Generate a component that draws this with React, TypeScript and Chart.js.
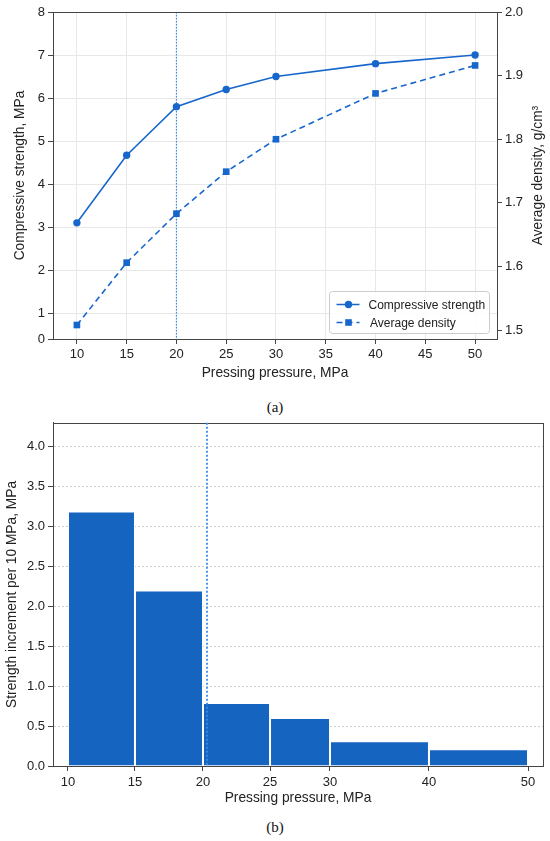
import React, { useEffect, useRef } from "react";
import { Chart, registerables, LinearScale, BarController } from "chart.js";

// (a) strength and density against pressing pressure
const pressure = [10, 15, 20, 25, 30, 40, 50];
const compressiveStrength = [3.1, 4.67, 5.8, 6.2, 6.5, 6.8, 7.0];
const averageDensity = [1.508, 1.606, 1.683, 1.749, 1.8, 1.872, 1.916];
const pressureTicks = [10, 15, 20, 25, 30, 35, 40, 45, 50];
const strengthTicks = [1, 2, 3, 4, 5, 6, 7, 8];
const densityTicks = [1.5, 1.6, 1.7, 1.8, 1.9, 2.0];

// (b) strength increment per 10 MPa, one bin between each pair of edges
const binEdges = [10, 15, 20, 25, 30, 40, 50];
const strengthIncrement = [3.19, 2.2, 0.79, 0.6, 0.31, 0.21];
const incrementTicks = [0, 0.5, 1, 1.5, 2, 2.5, 3, 3.5, 4];

const thresholdA = 20;
const thresholdB = 20.3;

const FONT = '"Liberation Sans", Arial, Helvetica, sans-serif';
const LINE_BLUE = "#1766cc";
const BAR_BLUE = "#1565c0";
const MARK_BLUE = "#3a8ee8";
const AXIS = "#444444";
const TEXT = "#222222";
const TICK_SIZE = 13;
const TITLE_SIZE = 13.75;

// the bottom axis of (b) is not linear: where each value lands, as a fraction of the plot width
const bottomAxisStops = [
  [8.88, 0],
  [10, 0.0306],
  [15, 0.1673],
  [20, 0.3061],
  [25, 0.4429],
  [30, 0.5653],
  [40, 0.7673],
  [50, 0.9694],
  [51.5, 1],
];

class PiecewiseScale extends LinearScale {
  static id = "piecewise";
  static defaults = LinearScale.defaults;

  getPixelForValue(value: number) {
    const s = bottomAxisStops;
    let i = 1;
    while (i < s.length - 1 && value > s[i][0]) i++;
    const [v0, f0] = s[i - 1];
    const [v1, f1] = s[i];
    return this.getPixelForDecimal(f0 + ((value - v0) / (v1 - v0)) * (f1 - f0));
  }

  getValueForPixel(pixel: number) {
    const d = this.getDecimalForPixel(pixel);
    const s = bottomAxisStops;
    let i = 1;
    while (i < s.length - 1 && d > s[i][1]) i++;
    const [v0, f0] = s[i - 1];
    const [v1, f1] = s[i];
    return v0 + ((d - f0) / (f1 - f0)) * (v1 - v0);
  }
}

// bars that span [binEdges[i], binEdges[i+1]] on the index scale
class HistogramController extends BarController {
  static id = "histogram";
  static defaults = { ...BarController.defaults };
  static overrides = {};

  _calculateBarIndexPixels(index: number) {
    const scale = this._cachedMeta.iScale;
    const left = scale.getPixelForValue(binEdges[index]);
    const right = scale.getPixelForValue(binEdges[index + 1]);
    return { base: left, head: right, center: (left + right) / 2, size: right - left, ratio: 1 };
  }
}

Chart.register(...registerables, PiecewiseScale, HistogramController);
Chart.defaults.font.family = FONT;
Chart.defaults.font.size = 12;
Chart.defaults.color = TEXT;

const frame = {
  id: "frame",
  afterDatasetsDraw(chart: any) {
    const { ctx, chartArea: a } = chart;
    ctx.save();
    ctx.strokeStyle = AXIS;
    ctx.lineWidth = 1;
    ctx.strokeRect(Math.round(a.left) + 0.5, Math.round(a.top) + 0.5, Math.round(a.right - a.left), Math.round(a.bottom - a.top));
    ctx.restore();
  },
};

function markerLine(value: number, width: number, dash: number[], onTop: boolean) {
  const draw = (chart: any) => {
    const { ctx, chartArea: a, scales } = chart;
    const x = scales.x.getPixelForValue(value);
    ctx.save();
    ctx.strokeStyle = MARK_BLUE;
    ctx.lineWidth = width;
    ctx.setLineDash(dash);
    ctx.beginPath();
    ctx.moveTo(x, a.top);
    ctx.lineTo(x, a.bottom);
    ctx.stroke();
    ctx.restore();
  };
  return onTop
    ? { id: "markerLine", afterDraw: draw }
    : { id: "markerLine", beforeDatasetsDraw: draw };
}

// right-hand axis title, read bottom to top like the left one
const rightTitle = {
  id: "rightTitle",
  afterDraw(chart: any) {
    const { ctx, chartArea: a, scales } = chart;
    const s = scales.y1;
    ctx.save();
    ctx.translate(s.right - 12, (a.top + a.bottom) / 2);
    ctx.rotate(-Math.PI / 2);
    ctx.fillStyle = TEXT;
    ctx.font = `${TITLE_SIZE}px ${FONT}`;
    ctx.textAlign = "center";
    ctx.textBaseline = "middle";
    ctx.fillText("Average density, g/cm³", 0, 0);
    ctx.restore();
  },
};

const insideLegend = {
  id: "insideLegend",
  afterDraw(chart: any) {
    const { ctx, chartArea: a } = chart;
    const w = 160;
    const h = 42;
    const x0 = Math.round(a.right - 8 - w) + 0.5;
    const y0 = Math.round(a.bottom - 6 - h) + 0.5;
    ctx.save();
    ctx.fillStyle = "rgba(255,255,255,0.85)";
    ctx.strokeStyle = "#cccccc";
    ctx.lineWidth = 1;
    ctx.beginPath();
    ctx.roundRect(x0, y0, w, h, 3);
    ctx.fill();
    ctx.stroke();
    chart.data.datasets.forEach((ds: any, i: number) => {
      const cy = y0 + 13 + i * 18;
      ctx.strokeStyle = ds.borderColor;
      ctx.lineWidth = 1.5;
      ctx.setLineDash(ds.borderDash || []);
      ctx.beginPath();
      ctx.moveTo(x0 + 7, cy);
      ctx.lineTo(x0 + 30, cy);
      ctx.stroke();
      ctx.setLineDash([]);
      ctx.fillStyle = ds.borderColor;
      const mx = x0 + 19;
      if (ds.pointStyle === "rect") {
        ctx.fillRect(mx - 3.3, cy - 3.3, 6.6, 6.6);
      } else {
        ctx.beginPath();
        ctx.arc(mx, cy, 3.7, 0, Math.PI * 2);
        ctx.fill();
      }
      ctx.fillStyle = TEXT;
      ctx.font = `12px ${FONT}`;
      ctx.textBaseline = "middle";
      ctx.fillText(ds.label, x0 + 39 + i * 1.5, cy + 1);
    });
    ctx.restore();
  },
};

const tickGrid = (color: string, drawOnChartArea = true) => ({
  color,
  drawOnChartArea,
  tickColor: AXIS,
  tickLength: 5,
  lineWidth: 1,
});

export default function App() {
  const topRef = useRef<HTMLCanvasElement>(null);
  const bottomRef = useRef<HTMLCanvasElement>(null);

  useEffect(() => {
    if (!topRef.current || !bottomRef.current) return;

    const top = new Chart(topRef.current, {
      type: "line",
      data: {
        datasets: [
          {
            label: "Compressive strength",
            data: pressure.map((p, i) => ({ x: p, y: compressiveStrength[i] })),
            yAxisID: "y",
            borderColor: LINE_BLUE,
            backgroundColor: LINE_BLUE,
            borderWidth: 1.6,
            pointStyle: "circle",
            pointRadius: 3.7,
            pointBorderWidth: 0,
            pointBackgroundColor: LINE_BLUE,
          },
          {
            label: "Average density",
            data: pressure.map((p, i) => ({ x: p, y: averageDensity[i] })),
            yAxisID: "y1",
            borderColor: LINE_BLUE,
            backgroundColor: LINE_BLUE,
            borderWidth: 1.6,
            borderDash: [6, 4],
            pointStyle: "rect",
            pointRadius: 4.7,
            pointBorderWidth: 0,
            pointBackgroundColor: LINE_BLUE,
          },
        ],
      },
      options: {
        responsive: false,
        animation: false,
        layout: { padding: { top: 12, left: 0, right: 0, bottom: 0 } },
        plugins: { legend: { display: false }, tooltip: { enabled: false } },
        scales: {
          x: {
            type: "linear",
            min: 7.6,
            max: 52.2,
            afterBuildTicks: (s: any) => {
              s.ticks = pressureTicks.map((v) => ({ value: v }));
            },
            afterFit: (s: any) => {
              s.height = 46;
            },
            grid: tickGrid("#e8e8e8"),
            border: { color: AXIS, width: 1 },
            ticks: { padding: 2.5, color: TEXT, font: { size: TICK_SIZE } },
            title: {
              display: true,
              text: "Pressing pressure, MPa",
              color: TEXT,
              font: { size: TITLE_SIZE },
              padding: { top: 0, bottom: 3.75 },
            },
          },
          y: {
            type: "linear",
            position: "left",
            min: 0.4,
            max: 8,
            afterBuildTicks: (s: any) => {
              s.ticks = [s.min, ...strengthTicks].map((v) => ({ value: v }));
            },
            afterFit: (s: any) => {
              s.width = 53;
            },
            grid: tickGrid("#e8e8e8"),
            border: { color: AXIS, width: 1 },
            ticks: {
              padding: 3,
              color: TEXT,
              font: { size: TICK_SIZE },
              callback: (v: any, i: number) => (i === 0 ? "0" : String(v)),
            },
            title: {
              display: true,
              text: "Compressive strength, MPa",
              color: TEXT,
              font: { size: TITLE_SIZE },
              padding: { top: 11.75, bottom: 0 },
            },
          },
          y1: {
            type: "linear",
            position: "right",
            min: 1.486,
            max: 2.0,
            afterBuildTicks: (s: any) => {
              s.ticks = densityTicks.map((v) => ({ value: v }));
            },
            afterFit: (s: any) => {
              s.width = 53;
            },
            grid: tickGrid("#e8e8e8", false),
            border: { color: AXIS, width: 1 },
            ticks: {
              padding: 3,
              color: TEXT,
              font: { size: TICK_SIZE },
              callback: (v: any) => Number(v).toFixed(1),
            },
            title: { display: false },
          },
        },
      },
      plugins: [markerLine(thresholdA, 1.2, [1.5, 1.5], false), frame, rightTitle, insideLegend],
    } as any);

    const bottom = new Chart(bottomRef.current, {
      type: "histogram" as any,
      data: {
        datasets: [
          {
            label: "Strength increment",
            data: strengthIncrement.map((v, i) => ({ x: binEdges[i], y: v })),
            backgroundColor: BAR_BLUE,
            borderColor: "#ffffff",
            borderWidth: 1,
            borderSkipped: "bottom",
          },
        ],
      },
      options: {
        responsive: false,
        animation: false,
        layout: { padding: { top: 7, left: 0, right: 7, bottom: 0 } },
        plugins: { legend: { display: false }, tooltip: { enabled: false } },
        scales: {
          x: {
            type: "piecewise",
            min: 8.88,
            max: 51.5,
            offset: false,
            afterBuildTicks: (s: any) => {
              s.ticks = binEdges.map((v) => ({ value: v }));
            },
            afterFit: (s: any) => {
              s.height = 46;
            },
            grid: { ...tickGrid("#ffffff", false), offset: false },
            border: { color: AXIS, width: 1 },
            ticks: { padding: 3.5, color: TEXT, font: { size: TICK_SIZE } },
            title: {
              display: true,
              text: "Pressing pressure, MPa",
              color: TEXT,
              font: { size: TITLE_SIZE },
              padding: { top: 0, bottom: 5.75 },
            },
          },
          y: {
            type: "linear",
            min: 0,
            max: 4.3,
            afterBuildTicks: (s: any) => {
              s.ticks = incrementTicks.map((v) => ({ value: v }));
            },
            afterFit: (s: any) => {
              s.width = 53;
            },
            grid: tickGrid("#cfcfcf"),
            border: { color: AXIS, width: 1, dash: [2, 2] },
            ticks: {
              padding: 3,
              color: TEXT,
              font: { size: TICK_SIZE },
              callback: (v: any) => Number(v).toFixed(1),
            },
            title: {
              display: true,
              text: "Strength increment per 10 MPa, MPa",
              color: TEXT,
              font: { size: TITLE_SIZE },
              padding: { top: 3.75, bottom: 0 },
            },
          },
        },
      },
      plugins: [frame, markerLine(thresholdB, 1.8, [2, 2], true)],
    } as any);

    return () => {
      top.destroy();
      bottom.destroy();
    };
  }, []);

  const caption: React.CSSProperties = {
    position: "absolute",
    left: 0,
    width: 550,
    textAlign: "center",
    fontFamily: '"Liberation Serif", "DejaVu Serif", serif',
    fontSize: 15,
    lineHeight: "18px",
    color: "#111",
  };

  return (
    <div style={{ position: "absolute", left: 0, top: 0, width: 550, height: 841, background: "#ffffff" }}>
      <canvas ref={topRef} width={550} height={385} style={{ position: "absolute", left: 0, top: 0 }} />
      <div style={{ ...caption, top: 398 }}>(a)</div>
      <canvas ref={bottomRef} width={550} height={400} style={{ position: "absolute", left: 0, top: 412 }} />
      <div style={{ ...caption, top: 818 }}>(b)</div>
    </div>
  );
}
